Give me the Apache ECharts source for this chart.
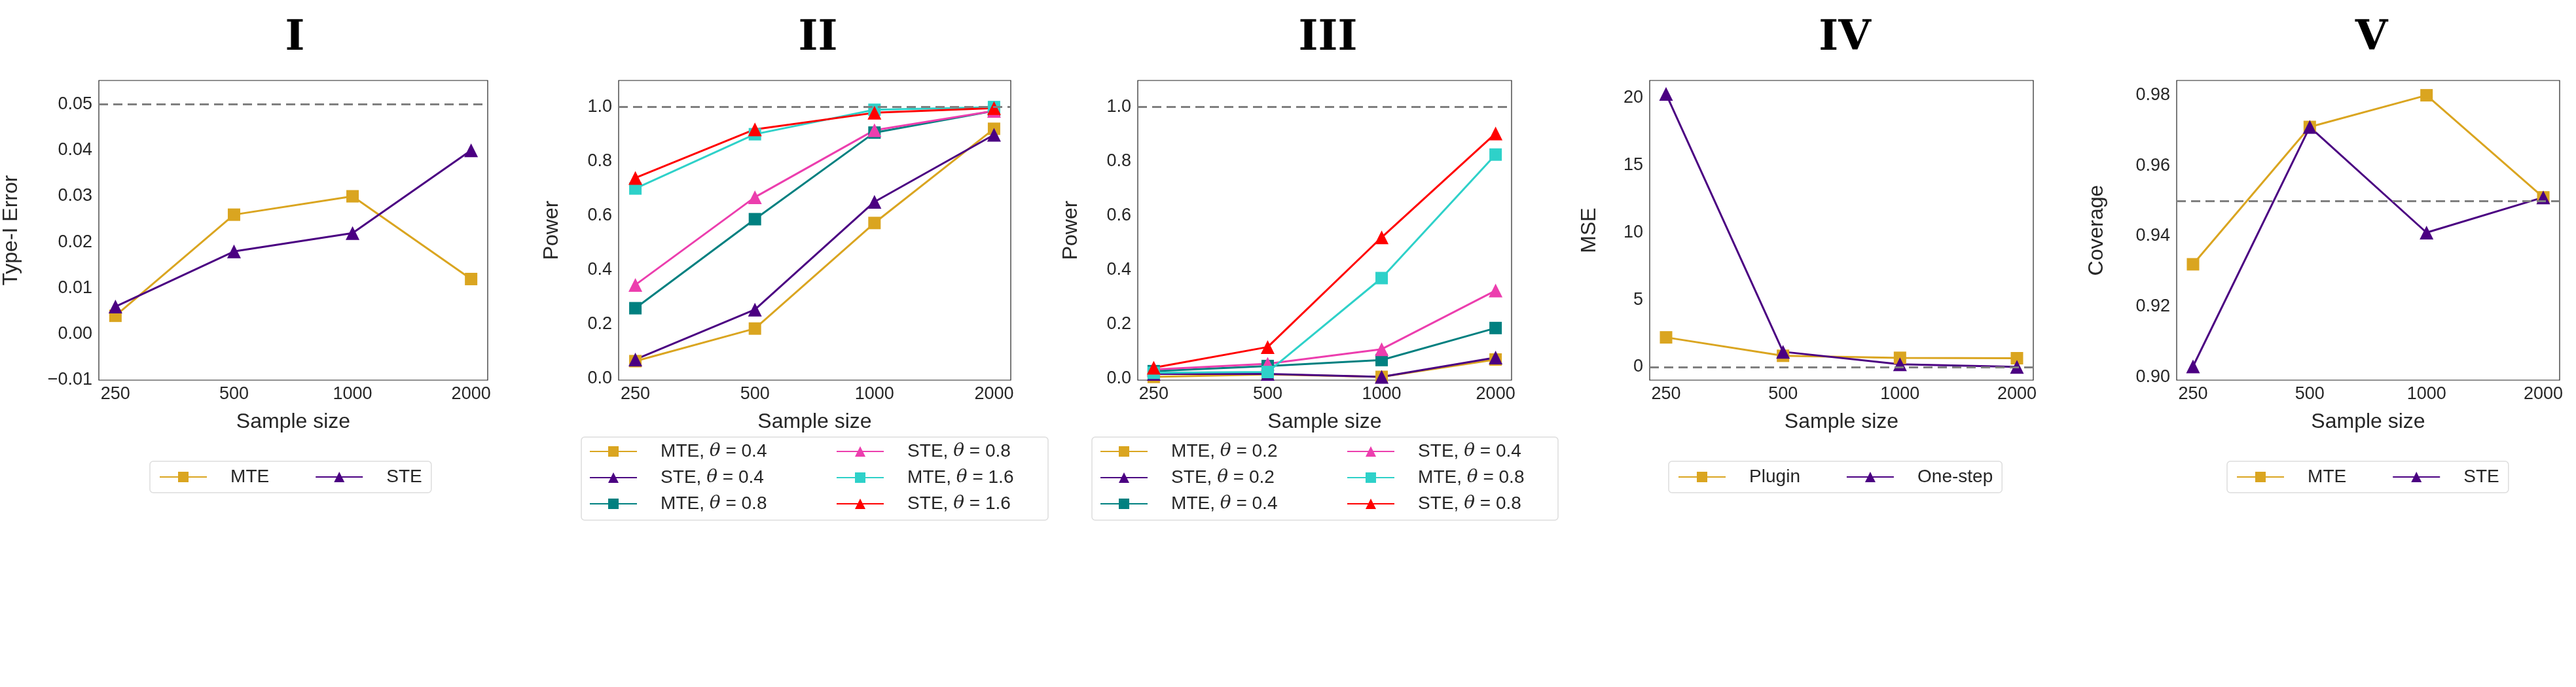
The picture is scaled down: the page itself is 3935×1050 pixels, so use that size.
<!DOCTYPE html>
<html>
<head>
<meta charset="utf-8">
<script src="https://cdn.jsdelivr.net/npm/echarts@6/dist/echarts.min.js"></script>
<style>html,body{margin:0;padding:0;background:#fff}#main{width:3935px;height:1050px}</style>
</head>
<body>
<div id="main"></div>
<script>
// sample sizes on x axis
var sizes = ['250', '500', '1000', '2000'];

// panel I: type-I error
var typeI_MTE = [0.004, 0.026, 0.030, 0.012];
var typeI_STE = [0.006, 0.018, 0.022, 0.040];

// panel II: power
var p2_MTE_04 = [0.064, 0.184, 0.573, 0.920];
var p2_STE_04 = [0.070, 0.254, 0.651, 0.898];
var p2_MTE_08 = [0.259, 0.587, 0.906, 0.986];
var p2_STE_08 = [0.345, 0.668, 0.915, 0.986];
var p2_MTE_16 = [0.700, 0.900, 0.990, 1.000];
var p2_STE_16 = [0.739, 0.918, 0.979, 0.996];

// panel III: power
var p3_MTE_02 = [0.006, 0.015, 0.006, 0.070];
var p3_STE_02 = [0.017, 0.017, 0.006, 0.077];
var p3_MTE_04 = [0.027, 0.046, 0.068, 0.186];
var p3_STE_04 = [0.033, 0.054, 0.108, 0.324];
var p3_MTE_08 = [0.021, 0.024, 0.370, 0.825];
var p3_STE_08 = [0.040, 0.116, 0.520, 0.903];

// panel IV: MSE
var mse_plugin = [2.2, 0.83, 0.68, 0.65];
var mse_onestep = [20.3, 1.13, 0.2, 0.0];

// panel V: coverage
var cov_MTE = [0.932, 0.971, 0.980, 0.951];
var cov_STE = [0.903, 0.971, 0.941, 0.951];

var GOLD = '#DAA520', INDIGO = '#4B0082', TEAL = '#008080',
    PINK = '#EC3EAE', TURQ = '#2ED1C9', RED = '#FF0000';
var TXT = '#262626';

var grids = [
    {left: 146, width: 599},
    {left: 945, width: 599},
    {left: 1738, width: 571},
    {left: 2520, width: 586},
    {left: 3325, width: 585}
];
var titles = ['I', 'II', 'III', 'IV', 'V'];
var yNames = ['Type-I Error', 'Power', 'Power', 'MSE', 'Coverage'];
var yGaps = [118, 86, 86, 76, 106];
var yRanges = [
    {min: -0.01, max: 0.0552, ticks: [-0.01, 0, 0.01, 0.02, 0.03, 0.04, 0.05], fmt: function (v) { return (v < 0 ? '\u22120.01' : v.toFixed(2)); }},
    {min: -0.006, max: 1.098, ticks: [0, 0.2, 0.4, 0.6, 0.8, 1.0], fmt: function (v) { return v.toFixed(1); }},
    {min: -0.006, max: 1.098, ticks: [0, 0.2, 0.4, 0.6, 0.8, 1.0], fmt: function (v) { return v.toFixed(1); }},
    {min: -0.98, max: 21.3, ticks: [0, 5, 10, 15, 20], fmt: function (v) { return String(v); }},
    {min: 0.8991, max: 0.9842, ticks: [0.90, 0.92, 0.94, 0.96, 0.98], fmt: function (v) { return v.toFixed(2); }}
];
var refLines = [0.05, 1.0, 1.0, 0, 0.95];

function pts(arr) {
    return arr.map(function (v, i) { return [i, v]; });
}

var option = {
    backgroundColor: '#fff',
    animation: false,
    textStyle: {fontFamily: 'Liberation Sans, Arial, sans-serif'},
    title: [],
    grid: [],
    xAxis: [],
    yAxis: [],
    series: [],
    legend: [],
    graphic: []
};

grids.forEach(function (g, k) {
    option.title.push({
        text: titles[k],
        left: g.left + g.width / 2,
        top: 22,
        textAlign: 'center',
        textStyle: {fontFamily: 'DejaVu Serif', fontWeight: 'bold', fontSize: 64, color: '#000'}
    });
    option.grid.push({
        left: g.left, width: g.width, top: 123, height: 458,
        show: true, borderColor: '#222', borderWidth: 1.2, backgroundColor: '#fff'
    });
    option.xAxis.push({
        type: 'value', gridIndex: k, min: -0.14, max: 3.14,
        name: 'Sample size', nameLocation: 'middle', nameGap: 48,
        nameTextStyle: {fontSize: 32, color: TXT},
        axisLine: {show: false}, axisTick: {show: false}, splitLine: {show: false},
        axisLabel: {
            customValues: [0, 1, 2, 3], fontSize: 27, color: TXT, margin: 8,
            formatter: function (v) { return sizes[Math.round(v)]; }
        }
    });
    var r = yRanges[k];
    option.yAxis.push({
        type: 'value', gridIndex: k, min: r.min, max: r.max,
        name: yNames[k], nameLocation: 'middle', nameGap: yGaps[k],
        nameTextStyle: {fontSize: 32, color: TXT},
        axisLine: {show: false}, axisTick: {show: false}, splitLine: {show: false},
        axisLabel: {customValues: r.ticks, fontSize: 27, color: TXT, margin: 10, formatter: r.fmt}
    });
    // dashed reference line
    option.series.push({
        type: 'line', xAxisIndex: k, yAxisIndex: k, data: [], silent: true,
        markLine: {
            symbol: 'none', silent: true, label: {show: false},
            lineStyle: {color: '#808080', type: [14, 8], width: 3},
            data: [{yAxis: refLines[k]}]
        }
    });
});

function addSeries(k, name, data, color, sym) {
    option.series.push({
        name: name, type: 'line', xAxisIndex: k, yAxisIndex: k,
        data: pts(data), color: color,
        symbol: sym, symbolSize: sym === 'rect' ? 19 : 21,
        lineStyle: {width: 3, color: color},
        itemStyle: {color: color}
    });
}

addSeries(0, 'I|MTE', typeI_MTE, GOLD, 'rect');
addSeries(0, 'I|STE', typeI_STE, INDIGO, 'triangle');

addSeries(1, 'II|MTE|0.4', p2_MTE_04, GOLD, 'rect');
addSeries(1, 'II|STE|0.4', p2_STE_04, INDIGO, 'triangle');
addSeries(1, 'II|MTE|0.8', p2_MTE_08, TEAL, 'rect');
addSeries(1, 'II|STE|0.8', p2_STE_08, PINK, 'triangle');
addSeries(1, 'II|MTE|1.6', p2_MTE_16, TURQ, 'rect');
addSeries(1, 'II|STE|1.6', p2_STE_16, RED, 'triangle');

addSeries(2, 'III|MTE|0.2', p3_MTE_02, GOLD, 'rect');
addSeries(2, 'III|STE|0.2', p3_STE_02, INDIGO, 'triangle');
addSeries(2, 'III|MTE|0.4', p3_MTE_04, TEAL, 'rect');
addSeries(2, 'III|STE|0.4', p3_STE_04, PINK, 'triangle');
addSeries(2, 'III|MTE|0.8', p3_MTE_08, TURQ, 'rect');
addSeries(2, 'III|STE|0.8', p3_STE_08, RED, 'triangle');

addSeries(3, 'IV|Plugin', mse_plugin, GOLD, 'rect');
addSeries(3, 'IV|One-step', mse_onestep, INDIGO, 'triangle');

addSeries(4, 'V|MTE', cov_MTE, GOLD, 'rect');
addSeries(4, 'V|STE', cov_STE, INDIGO, 'triangle');

function legendFmt(name) {
    var p = name.split('|');
    if (p.length === 2) return '{n|' + p[1] + '}';
    return '{n|' + p[1] + ', }{t|\u03b8}{n| = ' + p[2] + '}';
}
var legendText = {
    fontSize: 28, color: TXT,
    rich: {
        n: {fontSize: 28, color: TXT},
        t: {fontSize: 28, color: TXT, fontStyle: 'italic', fontFamily: 'DejaVu Serif'}
    }
};

function boxedLegend(left, top, names, gap) {
    option.legend.push({
        data: names, left: left, top: top, orient: 'horizontal',
        itemWidth: 72, itemHeight: 20, itemGap: gap,
        padding: [10, 14], borderColor: '#dddddd', borderWidth: 1.5, borderRadius: 5,
        formatter: function (n) { return '    ' + legendFmt(n); }, textStyle: legendText
    });
}
boxedLegend(229, 705, ['I|MTE', 'I|STE'], 70);
boxedLegend(2549, 705, ['IV|Plugin', 'IV|One-step'], 70);
boxedLegend(3402, 705, ['V|MTE', 'V|STE'], 70);

function columnLegend(left, names) {
    option.legend.push({
        data: names, left: left, top: 676, orient: 'vertical',
        itemWidth: 72, itemHeight: 20, itemGap: 12, padding: 0,
        formatter: function (n) { return '    ' + legendFmt(n); }, textStyle: legendText
    });
}
columnLegend(900, ['II|MTE|0.4', 'II|STE|0.4', 'II|MTE|0.8']);
columnLegend(1277, ['II|STE|0.8', 'II|MTE|1.6', 'II|STE|1.6']);
columnLegend(1680, ['III|MTE|0.2', 'III|STE|0.2', 'III|MTE|0.4']);
columnLegend(2057, ['III|STE|0.4', 'III|MTE|0.8', 'III|STE|0.8']);

option.graphic.push(
    {type: 'rect', shape: {x: 888, y: 668, width: 713, height: 127, r: 5}, style: {fill: 'none', stroke: '#dddddd', lineWidth: 1.5}, silent: true},
    {type: 'rect', shape: {x: 1668, y: 668, width: 712, height: 127, r: 5}, style: {fill: 'none', stroke: '#dddddd', lineWidth: 1.5}, silent: true}
);

var myChart = echarts.init(document.getElementById('main'));
myChart.setOption(option);
</script>
</body>
</html>
